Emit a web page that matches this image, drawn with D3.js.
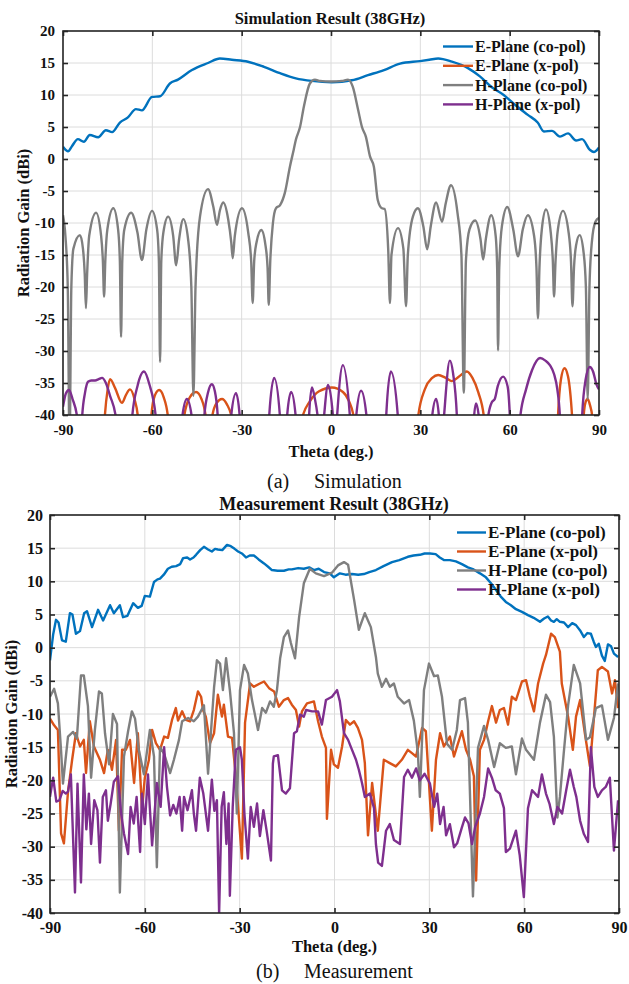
<!DOCTYPE html>
<html>
<head>
<meta charset="utf-8">
<script src="https://cdn.jsdelivr.net/npm/d3@7"></script>
<style>
  body { margin: 0; background: #fff; }
  svg { display: block; }
</style>
</head>
<body>
<div class="board"></div>
<script>
// Data (theta in deg, gain in dBi)

var serifFont = '"Liberation Serif", serif';
var legendLabels = ['E-Plane (co-pol)', 'E-Plane (x-pol)', 'H-Plane (co-pol)', 'H-Plane (x-pol)'];
var colors = ['#0072BD', '#D95319', '#7F7F7F', '#7E2F8E'];
var xTicks = [-90, -60, -30, 0, 30, 60, 90];
var yTicks = [20, 15, 10, 5, 0, -5, -10, -15, -20, -25, -30, -35, -40];

// Simulation
var simECo = [[-90,1.9],[-88.3,1.2],[-87,2],[-85,3.1],[-83,2.7],[-81,3.75],[-78.2,3.4],[-75.6,4.5],[-73.5,4.2],
  [-70.9,5.7],[-68.2,6.5],[-65.5,7.8],[-63.5,7.6],[-60.1,9.7],[-57.4,9.8],[-54.1,11.8],[-51.4,12.4],[-46.7,13.9],
  [-41.3,15.0],[-37.3,15.7],[-33.3,15.5],[-27.9,15.2],[-22.5,14.4],[-17.1,13.4],[-11.8,12.6],[-6.4,12.2],[0.3,12.0],
  [7,12.3],[12.4,13.1],[17.8,13.9],[23.2,14.9],[29.9,15.3],[33,15.5],[36,15.7],[40.6,15.2],[46,14.2],[50,12.9],
  [54,11.2],[58,10.0],[62,8.4],[66.1,6.9],[69.4,5.7],[71.5,4.3],[74.2,4.4],[76.9,3.5],[79.6,4.0],[82.3,2.9],
  [84.3,3.1],[87,1.4],[88.3,1.1],[90,1.8]];

var simEX = [[-90,-50],[-77,-50],[-76,-40.5],[-75,-36],[-74.2,-34.4],[-72.5,-35.8],[-70.2,-38.1],[-68.8,-36.8],
  [-67.5,-36],[-66,-37.5],[-64.8,-40.5],[-64,-50],[-61,-50],[-60.4,-40.5],[-59.2,-37],[-57.7,-36.1],[-56.2,-37.2],
  [-54.7,-40.5],[-54,-50],[-50,-50],[-49.4,-40.5],[-47.5,-37.3],[-45.3,-36.4],[-43.5,-37.5],[-42,-40.5],[-41,-50],
  [-40.6,-50],[-40,-40.5],[-38.5,-38.2],[-36.6,-37.5],[-35,-38.3],[-33.3,-40.5],[-32.5,-50],[-10.5,-50],[-9.7,-40.5],
  [-7,-37.8],[-4,-36.3],[0.3,-35.7],[4,-36.4],[6,-37.8],[7.7,-40.5],[8.5,-50],[28.5,-50],[29.2,-40.5],[31.5,-36],
  [34,-34.2],[36,-33.75],[38.5,-34.2],[40.6,-34.7],[43,-34],[45.6,-33.2],[47.5,-34.2],[49.5,-36.5],[51.4,-40.5],
  [52,-50],[75.5,-50],[76.2,-40.5],[77.2,-34.5],[78.4,-32.7],[79.6,-34],[81,-40.5],[82,-50],[84,-50],[84.8,-40.5],
  [85.5,-38],[86.2,-37.5],[87,-38.5],[87.8,-40.5],[88.5,-50],[90,-50]];

var simHCo = [[-90,-8.8],[-89.2,-12],[-88.4,-20],[-87.8,-45],[-87.2,-20],[-86.5,-14],[-84.3,-11.9],[-83.3,-14],
  [-82.7,-18],[-82.3,-23.3],[-81.9,-18],[-81.2,-12],[-78.9,-8.4],[-77.2,-12],[-76.6,-16],[-76.2,-21.5],[-75.8,-16],
  [-75.1,-11],[-73.1,-7.7],[-71.5,-11],[-70.9,-16],[-70.5,-27.8],[-70.1,-16],[-69.4,-11],[-67.1,-8.4],[-65,-11.5],
  [-63.5,-15.8],[-62,-11],[-60.1,-8.1],[-58.4,-11],[-57.8,-16],[-57.4,-31.7],[-57,-16],[-56.3,-11.5],[-54.7,-9.0],
  [-53,-12],[-52,-16.6],[-51,-12.5],[-49.6,-9.4],[-48,-12.5],[-46.9,-20],[-46.2,-37],[-45.5,-20],[-44,-9],
  [-41.3,-4.7],[-39.5,-7.5],[-38.3,-10.3],[-37.3,-8],[-36.2,-6.8],[-34.5,-9.5],[-33.5,-13],[-33,-15.5],[-32.3,-12],
  [-29.9,-7.7],[-27.8,-11.5],[-26.8,-16],[-26.3,-22.5],[-25.8,-16],[-25,-13],[-23.4,-11.1],[-22,-13.5],[-21.3,-17],
  [-20.9,-22.8],[-20.4,-16],[-19.5,-10],[-18.5,-7.7],[-17.1,-7.2],[-15.5,-5.3],[-13.8,-1.2],[-12.5,1.5],[-11.8,3.0],
  [-10.4,5.0],[-9.1,8.2],[-7.1,11.8],[-5.4,12.4],[-3.7,12.2],[0,12.1],[3.7,12.2],[5.7,12.4],[7.3,11.3],[9.1,7.7],
  [10.4,5.0],[11.7,3.5],[13.1,0.4],[14.4,-1.2],[15.7,-6.4],[17.1,-7.7],[18,-7.8],[19.2,-14],[19.8,-22.5],[20.3,-15],
  [22.5,-10.8],[24.3,-14],[25.2,-23],[25.8,-15],[27.5,-9],[29.2,-7.7],[31,-10.5],[32.3,-14.1],[33.5,-10.5],
  [35.3,-6.8],[37.3,-9.8],[38.5,-7],[40.3,-4.1],[42.5,-8.5],[43.8,-15],[44.6,-36.5],[45.3,-16],[46.5,-11],
  [48.4,-9.6],[50.2,-12.5],[51.1,-15.7],[52,-12.5],[53.8,-8.8],[55.3,-12],[55.8,-17],[56.1,-29.9],[56.5,-17],
  [57.4,-10.5],[59.2,-7.5],[61.2,-11],[62.8,-15.2],[64.4,-11],[66.1,-8.8],[68.2,-12],[69,-17],[69.5,-24.9],[70,-17],
  [70.8,-11],[72.2,-7.9],[73.8,-11.5],[74.5,-16],[74.9,-21.5],[75.4,-16],[76.2,-11],[77.9,-8.1],[79.8,-11.5],
  [80.6,-16],[81.1,-23],[81.6,-17],[82.3,-13.5],[83.5,-11.9],[84.8,-14.5],[85.6,-20],[86.2,-37.5],[86.8,-20],
  [87.6,-13],[88.8,-9.8],[90,-9.2]];

var simHX = [[-90,-38.7],[-89,-36.6],[-88,-36.1],[-86.8,-37.5],[-85.2,-40.5],[-84.5,-50],[-84.2,-50],[-83.6,-40.5],
  [-82.6,-36.5],[-81.6,-34.8],[-80.5,-34.6],[-79.2,-34.6],[-78,-34.4],[-76.9,-34.2],[-75.6,-35],[-74.2,-37],
  [-72.2,-40.5],[-71.5,-50],[-67.5,-50],[-66.8,-40.5],[-65,-35.5],[-62.8,-33.2],[-61,-35.2],[-58.8,-40.5],[-58,-50],
  [-50.8,-50],[-50,-40.5],[-48.4,-37.5],[-46.7,-40.5],[-46,-50],[-43.3,-50],[-42.6,-40.5],[-41.3,-36.5],[-40,-35.2],
  [-39,-36.3],[-38,-40.5],[-37.3,-50],[-34.3,-50],[-33.6,-40.5],[-31.9,-36.6],[-30.6,-40.5],[-30,-50],[-21.5,-50],
  [-20.8,-40.5],[-19.1,-34.2],[-17.1,-40.5],[-16.5,-50],[-15.5,-50],[-14.8,-40.5],[-13.4,-36.4],[-11.8,-40.5],
  [-11.2,-50],[-8,-50],[-7.4,-40.5],[-6.4,-35.7],[-5.4,-37.5],[-4.4,-40.5],[-3.4,-46],[-2.4,-40.5],[-1,-35.3],
  [0.7,-40.5],[1.3,-46],[2,-40.5],[4,-32.2],[6.4,-40.5],[7.4,-48],[8.4,-40.5],[10.1,-36.2],[12,-40.5],[12.8,-50],
  [17.8,-50],[18.5,-40.5],[20.1,-33.2],[22.5,-40.5],[23.2,-50],[33.2,-50],[33.9,-40.5],[35.3,-37.5],[36.3,-40.5],
  [37,-46],[37.9,-40.5],[39.9,-31.5],[41,-33.5],[42.3,-40.5],[43,-50],[47.3,-50],[48,-40.5],[48.7,-38.2],
  [49.7,-40.5],[50.4,-50],[52,-50],[52.7,-40.5],[54,-38],[55,-37.5],[56,-35.5],[57.8,-34],[59.3,-35.5],[60.1,-40.5],
  [60.8,-50],[62.8,-50],[63.5,-40.5],[65.5,-36],[67.5,-33],[70.2,-31.1],[72,-31.5],[73.5,-32.2],[74.9,-33.6],
  [76,-36],[76.9,-40.5],[77.6,-50],[83.6,-50],[84.3,-40.5],[85.5,-34.5],[86.9,-32.5],[88,-33.2],[89.2,-35.3],[90,-36]];

// Measurement
var measECo = [[-90,-1.9],[-89,2],[-88.1,4.2],[-87.3,3.8],[-86.2,1.1],[-85,0.9],[-83.7,5.2],[-82.9,5.0],[-81.8,2.1],
  [-80.5,2.5],[-79.2,5.2],[-78.3,5.5],[-76.7,3.1],[-74.8,5.7],[-73.2,4.1],[-71,6.4],[-69.8,5.2],[-67.9,6.4],
  [-66.9,4.6],[-65.5,4.8],[-63.7,6.7],[-62.2,6.0],[-61,6.3],[-60,7.8],[-58.4,7.7],[-57.1,9.9],[-56,10.3],[-55.2,10.4],
  [-54,11],[-52.7,11.9],[-51.5,12.2],[-50.1,12.3],[-48.8,12.6],[-47.9,13.5],[-46.6,13.6],[-45.7,13.3],[-44.6,13.6],
  [-43.8,14.0],[-42.5,14.7],[-41.3,15.2],[-40,14.8],[-38.8,14.5],[-37.8,14.9],[-36.9,14.8],[-35.5,14.7],[-34,15.5],
  [-32.8,15.3],[-31.6,14.9],[-30.5,14.5],[-29.3,14.2],[-28,13.6],[-26.8,13.9],[-25.5,13.9],[-24,13.3],[-22.3,12.7],
  [-21,12.2],[-19.8,11.7],[-18,11.6],[-16,11.6],[-14.5,11.8],[-13.5,11.8],[-11.5,12.0],[-9.7,11.9],[-8,12.1],
  [-6.5,11.7],[-5,11.9],[-3.3,11.4],[-1.5,11.2],[-0.2,10.6],[1.7,11.2],[3.5,11.0],[5.5,11.1],[7.5,11.0],[9.3,11.1],
  [11,11.4],[13.1,11.7],[15.5,12.3],[18.2,12.9],[20.5,13.2],[23.2,13.7],[25,13.9],[27,14],[28.5,14.2],[30.2,14.2],
  [32,14.1],[33.3,13.6],[34.6,13.2],[36.5,13.2],[38.4,13.0],[40.3,12.6],[42.2,12.1],[44,11.8],[46,11.2],[47.9,10.6],
  [49.5,9.7],[51.1,8.7],[52.6,7.7],[54.2,6.9],[55.8,6.4],[57.4,5.8],[59.3,5.4],[61.2,4.9],[63,4.5],[65,3.9],
  [66.3,4.4],[67.5,4.7],[68.5,4.1],[69.4,3.9],[70.3,4.3],[71.3,3.9],[72.6,3.8],[73.9,3.1],[75.2,3.7],[76.4,3.4],
  [77.7,2.6],[78.9,1.6],[80,2.2],[81.1,2.1],[82,0.9],[82.7,0.1],[83.6,0.6],[84.6,-1.2],[85.5,-2],[86.5,0.5],
  [87.5,0.2],[88.4,-0.9],[89.7,-1.4]];

var measEX = [[-90,-10.7],[-88.7,-11.7],[-87.5,-12.4],[-86.5,-28],[-85.6,-29.5],[-84.3,-21.7],[-83,-16.9],
  [-81.8,-12.9],[-80.5,-14.9],[-79.3,-13.9],[-78.6,-18.9],[-77.4,-11.1],[-76.1,-14.9],[-74.2,-16.9],[-72.9,-18.9],
  [-71.7,-15.4],[-70.4,-18.4],[-69.1,-13.9],[-68.2,-27.6],[-67.2,-15.4],[-66,-15.4],[-64.7,-13.9],[-63.4,-20.4],
  [-62.2,-12.9],[-60.9,-24.2],[-60,-19.6],[-58.7,-16.9],[-57.7,-12.4],[-56.5,-14.4],[-55.2,-15.4],[-53.9,-13.4],
  [-52.7,-13.6],[-51.4,-10.9],[-50.2,-9.1],[-49.5,-11],[-48.2,-9.6],[-47,-10.9],[-45.7,-11.1],[-44.5,-9.4],
  [-43.2,-6.6],[-42.2,-7.4],[-41.6,-9.4],[-40.7,-10.4],[-39.4,-14.4],[-38.1,-12.9],[-36.9,-7.1],[-35.6,-10.4],
  [-35,-8.6],[-33.7,-13.4],[-32.4,-13.6],[-31.2,-19.4],[-29.3,-31.8],[-28.3,-11.3],[-26.7,-5.4],[-25.5,-5.9],
  [-23.6,-5.4],[-22.3,-5.1],[-20.7,-6.1],[-19.1,-6.6],[-17.6,-8.9],[-16,-7.9],[-14.7,-7.6],[-13.5,-8.6],
  [-12.2,-9.4],[-11.2,-11.9],[-10.3,-9.6],[-8.7,-8.4],[-6.5,-8.1],[-5.2,-11.1],[-4,-13.4],[-2.7,-15.1],
  [-2.4,-25.8],[-1.1,-15.4],[-0.2,-17.6],[1.1,-18.1],[2.4,-14.9],[3.6,-10.9],[4.9,-11.6],[6.2,-11.1],[7.4,-12.1],
  [8.7,-13.9],[9.6,-17.4],[10.6,-28.3],[11.9,-20.4],[13.7,-27.6],[15.6,-16.9],[17.5,-17.4],[19.4,-17.9],
  [21.3,-16.9],[23.2,-15.4],[24.5,-15.9],[25.8,-16.4],[27.7,-12.1],[28.9,-12.6],[30.8,-27.6],[32.1,-16.9],
  [33.4,-12.9],[34.6,-14.9],[36.5,-13.4],[37.8,-16.4],[39.1,-14.4],[40.3,-12.6],[41.6,-15.4],[42.9,-16.9],
  [44.1,-19.4],[44.8,-35.1],[46,-15.4],[47.3,-13.9],[48.6,-11.1],[49.8,-8.8],[51.1,-11.3],[52.3,-9.4],[53.6,-9.1],
  [54.9,-11.6],[56.1,-7.4],[57.4,-7.9],[58.3,-6.6],[59.3,-5.1],[60.6,-4.9],[61.8,-7.4],[63.1,-9.6],[64.4,-5.4],
  [66,-2.4],[66.9,-1.1],[68.5,2.1],[69.7,1.6],[71.3,-0.6],[71.9,-5.4],[73.9,-10.4],[75.4,-15.4],[76.4,-10.4],
  [77.7,-7.9],[79.2,-12.9],[80.8,-17.9],[82.1,-10.4],[83.3,-3.4],[84.6,-2.9],[86.5,-3.6],[87.8,-6.9],[88.7,-4.9],
  [89.7,-9.1]];

var measHCo = [[-90,-7.4],[-88.7,-6.2],[-87.5,-8.4],[-86.5,-15.5],[-85.9,-20.5],[-84.3,-13.4],[-82.7,-12.7],
  [-81.5,-13.7],[-80.2,-4.2],[-79.3,-4.2],[-78,-8.8],[-77,-19.6],[-75.8,-12.4],[-74.5,-6.6],[-73.6,-6.9],
  [-72.6,-12.9],[-71.3,-17.6],[-70.1,-10],[-68.8,-11.5],[-67.9,-36.9],[-66.6,-16.4],[-65.3,-12.6],[-64.1,-9.6],
  [-63.1,-10.7],[-61.9,-15.4],[-60.3,-19.1],[-58.4,-12.4],[-57.1,-16.4],[-56.2,-33.1],[-55.2,-15],[-53.9,-16],
  [-52,-18.9],[-50.8,-16.9],[-49.2,-13.9],[-48.2,-11.1],[-46.3,-10.6],[-44.5,-11.1],[-43.2,-10.4],[-41.3,-8.7],
  [-40,-19],[-38.1,-6],[-37.2,-1.9],[-36.2,-2.4],[-35.3,-6.4],[-34.3,-1.6],[-33.1,-6.4],[-31.8,-12.9],[-30.9,-25],
  [-29.9,-6.4],[-28.6,-2.6],[-27.4,-3.9],[-26.1,-7.9],[-24.2,-12.4],[-22.9,-9.1],[-21.7,-9.8],[-20.4,-8.1],
  [-19.2,-8.9],[-18.2,-6.4],[-17.2,-1.6],[-16,1.6],[-14.7,2.6],[-13.8,0.7],[-12.5,-1.6],[-11.2,4.6],[-9.7,9.7],
  [-7.8,11.9],[-5.9,11.2],[-3.3,10.8],[-0.8,11.3],[1.1,12.4],[3,12.9],[4.3,12.5],[6.2,7.2],[7.7,2.7],[9.6,5.2],
  [11.5,3.1],[13.1,-1.4],[13.7,-3.9],[15,-5.9],[16.3,-4.7],[17.5,-5.9],[18.8,-5.4],[20,-7.4],[22,-8.4],[23.6,-7.9],
  [25.1,-11],[26.4,-15.9],[27,-22.5],[28.3,-6.4],[29.9,-2.4],[31.5,-4.3],[32.7,-4.2],[34,-7.4],[35.6,-14.5],
  [37.2,-15.4],[38.7,-12.4],[39.7,-7.9],[41.3,-7.6],[42.2,-11.3],[43.8,-37.5],[45.4,-15.1],[47.3,-11.8],
  [48.6,-13.9],[50.5,-18],[52.3,-14.4],[54.2,-15.1],[56.1,-14.9],[57.4,-19.1],[59.3,-13.7],[60.6,-15.4],
  [63.1,-16.9],[65,-11.3],[66.9,-7.1],[68.2,-8.2],[69.4,-13.4],[70.5,-25.6],[71.3,-22.5],[72.5,-16],[73.9,-8.7],
  [75.7,-2.6],[77.7,-5.4],[79.6,-13.9],[80.8,-13.5],[82.7,-9.1],[84.6,-8.7],[86.5,-13.9],[88.4,-10.6],[89.7,-5.4]];

var measHX = [[-90,-22.5],[-89,-19.6],[-88,-23.2],[-87,-23],[-86,-21.6],[-85,-22],[-84.3,-21.7],[-83.4,-19.1],
  [-82.1,-36.9],[-81.3,-20.5],[-80.2,-35.4],[-79.3,-19.1],[-78.5,-27.4],[-77.7,-22],[-77,-29.6],[-76,-23],
  [-75,-24.5],[-74.2,-32.4],[-73.3,-22.5],[-72.3,-21.5],[-71.7,-26.1],[-70.8,-23.5],[-69.8,-20.2],[-68.5,-19.4],
  [-67.5,-25],[-66.6,-28],[-65.3,-31.1],[-64.5,-24],[-63.5,-26.5],[-62.6,-22.5],[-61.5,-30.8],[-60.9,-22],
  [-60,-26.6],[-59,-19.1],[-58.5,-23.5],[-57.7,-29.8],[-56.2,-20.4],[-55,-24],[-53.9,-15],[-53,-21],[-52,-25.3],
  [-51,-23.7],[-50,-25],[-49,-22.5],[-48.2,-27.6],[-47.6,-22.5],[-46.5,-24.5],[-45.1,-21.5],[-44.5,-25],
  [-43.8,-27.6],[-42.6,-19.6],[-41.5,-22],[-40.7,-25],[-40,-27.6],[-38.8,-19.9],[-38,-24.6],[-37.2,-23],
  [-36.5,-40],[-35.7,-24],[-35,-21.8],[-34.2,-29.6],[-33.5,-23.5],[-33.1,-37.4],[-32.2,-24],[-31.2,-15.4],
  [-29.9,-15],[-29.3,-16.9],[-28.5,-25],[-27.4,-31.8],[-26.5,-24],[-25.5,-27],[-24.5,-23.5],[-23.6,-28.4],
  [-22.5,-24.5],[-21.5,-27.5],[-20.1,-32.1],[-19.5,-17.5],[-19.2,-16.4],[-17.9,-16.2],[-16.6,-21.5],[-15.4,-22],
  [-14.1,-21.2],[-12.8,-12.9],[-11.9,-12.6],[-10.9,-10.1],[-9.7,-10.4],[-9,-9.4],[-7.1,-9.6],[-5.2,-9.6],
  [-4,-11.6],[-2.7,-7.9],[-0.8,-7.4],[0.8,-6.4],[1.7,-8.1],[3,-12.9],[4.3,-13.9],[5.2,-15],[6.8,-16.9],[7.7,-18.4],
  [8.7,-20.4],[9.6,-22.5],[11.2,-22],[12.5,-24.2],[13.1,-29.6],[13.8,-32.4],[15,-32.9],[16.3,-27.6],[17.5,-26.6],
  [18.8,-29],[20.7,-29.6],[22,-19.5],[23.2,-18.4],[24.5,-19.6],[25.8,-18.2],[27,-20],[28.5,-19],[30.2,-20.5],
  [31.5,-24],[32.5,-22],[33.4,-26.6],[34.5,-24],[35.3,-28.3],[36.5,-26.6],[37.8,-30.1],[38.8,-29.5],[40.3,-27.1],
  [41.3,-25.6],[42.4,-26.5],[43.5,-29.6],[44.5,-27],[46,-25],[47.3,-22.5],[48.6,-18.2],[49.8,-19.6],[51,-21.5],
  [52.3,-22],[53.6,-24.2],[54.2,-30.8],[55.5,-30.3],[57.4,-27.6],[58.6,-31.3],[59.9,-37.6],[61.2,-24.2],
  [62.5,-21.5],[64.4,-22.5],[65.6,-19.1],[66.9,-22],[68,-23.5],[69.4,-26.6],[70.5,-24],[72,-25],[73.3,-21.5],
  [74.5,-18.4],[75.7,-21],[76.5,-22.5],[77.7,-26.1],[78.9,-28.1],[80.2,-29.3],[81.1,-15],[82.2,-21],[83.3,-22.5],
  [84.6,-21.5],[85.8,-21],[87.1,-19.6],[88.4,-30.6],[89.7,-23]];

var svg = d3.select('.board').append('svg')
  .attr('width', 629)
  .attr('height', 984);

// every text gets the serif face inline
var addText = function(sel, size, bold) {
  return sel.append('text')
    .style('font-family', serifFont)
    .style('font-size', size + 'px')
    .style('font-weight', bold ? 'bold' : 'normal')
    .attr('fill', '#111');
};

var drawPanel = function(p) {
  var x = d3.scaleLinear().domain([-90, 90]).range([p.left, p.right]);
  var y = d3.scaleLinear().domain([-40, 20]).range([p.bottom, p.top]);
  var g = svg.append('g');

  g.append('clipPath').attr('id', 'clip-' + p.id)
    .append('rect')
    .attr('x', p.left).attr('y', p.top)
    .attr('width', p.right - p.left).attr('height', p.bottom - p.top);

  // grid
  g.selectAll('.gx').data(xTicks).enter().append('line')
    .attr('x1', function(d) { return x(d); }).attr('x2', function(d) { return x(d); })
    .attr('y1', p.top).attr('y2', p.bottom)
    .attr('stroke', '#dcdcdc').attr('stroke-width', 1);
  g.selectAll('.gy').data(yTicks).enter().append('line')
    .attr('y1', function(d) { return y(d); }).attr('y2', function(d) { return y(d); })
    .attr('x1', p.left).attr('x2', p.right)
    .attr('stroke', '#dcdcdc').attr('stroke-width', 1);

  // curves
  var line = d3.line()
    .x(function(d) { return x(d[0]); })
    .y(function(d) { return y(d[1]); })
    .curve(p.curve);
  g.append('g').attr('clip-path', 'url(#clip-' + p.id + ')')
    .selectAll('path').data(p.series).enter().append('path')
    .attr('d', line)
    .attr('fill', 'none')
    .attr('stroke', function(d, i) { return colors[i]; })
    .attr('stroke-width', 2.4)
    .attr('stroke-linejoin', 'round');

  // axes (ticks point inward, like the original)
  var ax = g.append('g').attr('transform', 'translate(0,' + p.bottom + ')')
    .call(d3.axisBottom(x).tickValues(xTicks).tickSize(-5).tickPadding(p.xPad));
  var axTop = g.append('g').attr('transform', 'translate(0,' + p.top + ')')
    .call(d3.axisTop(x).tickValues(xTicks).tickSize(-5).tickFormat(''));
  var ay = g.append('g').attr('transform', 'translate(' + p.left + ',0)')
    .call(d3.axisLeft(y).tickValues(yTicks).tickSize(-5).tickPadding(p.yPad));
  var ayR = g.append('g').attr('transform', 'translate(' + p.right + ',0)')
    .call(d3.axisRight(y).tickValues(yTicks).tickSize(-5).tickFormat(''));
  [ax, axTop, ay, ayR].forEach(function(a) {
    a.attr('font-family', null);
    a.select('.domain').remove();
    a.selectAll('line').attr('stroke', '#262626').attr('stroke-width', 1.6);
    a.selectAll('text')
      .style('font-family', serifFont)
      .style('font-weight', 'bold')
      .style('font-size', p.tickSize + 'px')
      .attr('fill', '#111');
  });
  ay.selectAll('text').text(function(d) { return d < 0 ? '-' + Math.abs(d) : d; });
  ax.selectAll('text').text(function(d) { return d < 0 ? '-' + Math.abs(d) : d; });

  g.append('rect')
    .attr('x', p.left).attr('y', p.top)
    .attr('width', p.right - p.left).attr('height', p.bottom - p.top)
    .attr('fill', 'none').attr('stroke', '#262626').attr('stroke-width', 1.6);

  // titles
  addText(g, p.titleSize, true).attr('x', p.titleX).attr('y', p.titleY)
    .attr('text-anchor', 'middle').attr('dominant-baseline', 'central')
    .text(p.title);
  addText(g, p.labelSize, true).attr('x', (p.left + p.right) / 2).attr('y', p.xLabelY)
    .attr('text-anchor', 'middle').attr('dominant-baseline', 'central')
    .text('Theta (deg.)');
  addText(g, p.labelSize, true)
    .attr('transform', 'translate(' + p.yLabelX + ',' + (p.top + p.bottom) / 2 + ') rotate(-90)')
    .attr('text-anchor', 'middle').attr('dominant-baseline', 'central')
    .text('Radiation Gain (dBi)');

  // legend, no box
  var leg = g.selectAll('.leg').data(legendLabels).enter().append('g')
    .attr('transform', function(d, i) { return 'translate(0,' + (p.legY + i * p.legStep) + ')'; });
  leg.append('line')
    .attr('x1', p.legX).attr('x2', p.legX + p.legLen)
    .attr('stroke', function(d, i) { return colors[i]; })
    .attr('stroke-width', 2.4);
  addText(leg, p.legSize, true)
    .attr('x', p.legX + p.legLen + 2).attr('dominant-baseline', 'central')
    .text(function(d) { return d; });

  // caption under the panel
  addText(g, 20, false).attr('x', p.capX1).attr('y', p.capY).attr('dominant-baseline', 'central')
    .text(p.capTag);
  addText(g, 20, false).attr('x', p.capX2).attr('y', p.capY).attr('dominant-baseline', 'central')
    .text(p.capText);
};

drawPanel({
  id: 'sim', left: 63, right: 599, top: 31, bottom: 415,
  series: [simECo, simEX, simHCo, simHX], curve: d3.curveMonotoneX,
  title: 'Simulation Result (38GHz)', titleX: 330, titleY: 18, titleSize: 16.5,
  tickSize: 15, xPad: 9, yPad: 8, labelSize: 16.5, xLabelY: 451, yLabelX: 23,
  legX: 443, legY: 46.5, legStep: 19.3, legLen: 30, legSize: 16,
  capTag: '(a)', capText: 'Simulation', capX1: 267, capX2: 314, capY: 481
});

drawPanel({
  id: 'meas', left: 50, right: 619, top: 515, bottom: 913,
  series: [measECo, measEX, measHCo, measHX], curve: d3.curveLinear,
  title: 'Measurement Result (38GHz)', titleX: 334, titleY: 504, titleSize: 18,
  tickSize: 16, xPad: 9, yPad: 7, labelSize: 16.5, xLabelY: 946, yLabelX: 11,
  legX: 457, legY: 532.5, legStep: 19, legLen: 29, legSize: 17,
  capTag: '(b)', capText: 'Measurement', capX1: 256, capX2: 304, capY: 971
});
</script>
</body>
</html>
